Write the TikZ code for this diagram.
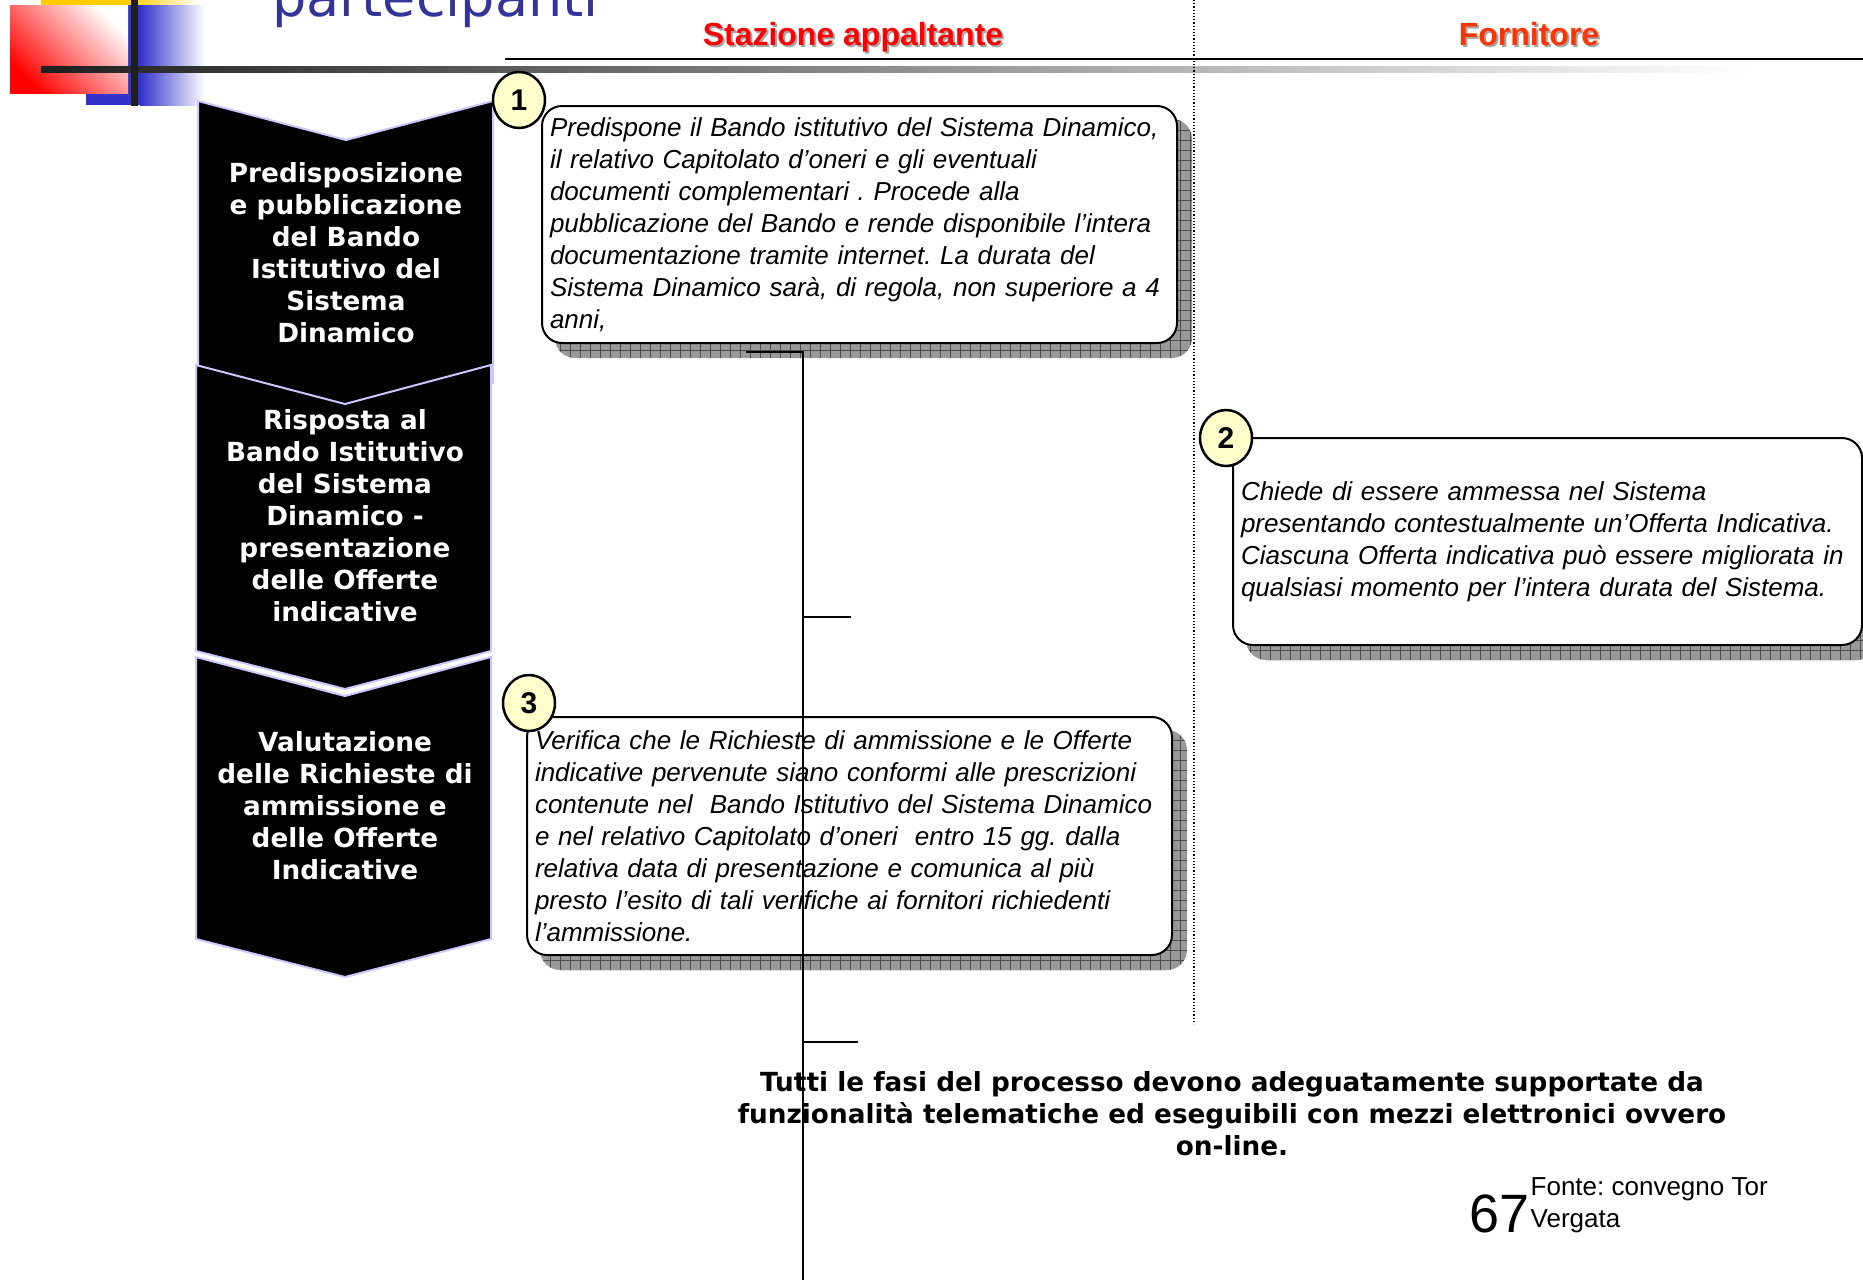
\documentclass[tikz,border=0pt]{standalone}
\usepackage{fontspec}
\setmainfont{Liberation Sans}
\newfontfamily\verdana{DejaVu Sans}
\usetikzlibrary{positioning, shapes.geometric, backgrounds}
\definecolor{lavender}{HTML}{C8C8FF}
\definecolor{titleblue}{HTML}{333399}
\definecolor{logoblue}{HTML}{3333CC}
\definecolor{logoyellow}{HTML}{FFCC00}
\definecolor{hdrred}{HTML}{FF0000}
\definecolor{hdrorange}{HTML}{FF3300}
\definecolor{stepyellow}{HTML}{FFFFCC}
\frenchspacing

\begin{document}
\begin{tikzpicture}[
    x=1pt, y=-1pt,
    phase/.style={
      fill = black,
      draw = lavender,
      line width = 2,
    },
    phasetxt/.style={
      text = white,
      align = center,
      inner sep = 0,
      font = \verdana\bfseries\fontsize{26.3}{32}\selectfont,
    },
    note/.style={
      draw,
      line width = 2,
      rounded corners = 20,
      fill = white,
      anchor = north west,
      inner sep = 8,
      align = left,
      font = \itshape\fontsize{26}{32}\selectfont,
    },
    noteshadow/.style={
      fill = black!40,
      rounded corners = 20,
      path picture={\draw[black!70, line width=0.9, step=10pt]
        (path picture bounding box.south west) grid
        (path picture bounding box.north east);},
    },
    num/.style={
      ellipse,
      draw,
      line width = 2.5,
      fill = stepyellow,
      minimum width = 52,
      minimum height = 56,
      inner sep = 0,
      font = \bfseries\fontsize{30}{30}\selectfont,
    },
    hdr/.style={font = \bfseries\fontsize{32}{32}\selectfont},
    link/.style={line width = 2.5},
  ]
  \useasboundingbox (0,0) rectangle (1863,1280);

  % logo
  \fill[logoyellow] (41,0) rectangle (130,5);
  \shade[left color=logoyellow, right color=white] (130,0) rectangle (200,5);
  \fill[logoblue] (86,5) rectangle (140,105);
  \shade[left color=logoblue, right color=white] (140,5) rectangle (205,105);
  \shade[bottom color=red, top color=white, shading angle=-45]
    (10,5) rectangle (128,93);
  \shade[left color=black!88, right color=white] (41,66) rectangle (1750,72);
  \fill[black!88] (131,0) rectangle (138,106);
  \node[anchor=base west, inner sep=0, text=titleblue,
    font=\verdana\fontsize{54}{54}\selectfont] (title) at (272,16) {partecipanti};

  % lanes
  \draw[line width=2] (505,59) -- (1863,59);
  \draw[dotted, line width=1.2] (1194,0) -- (1194,1024);
  \node[hdr, text=black!35] (hdrsash) at (855,39) {Stazione appaltante};
  \node[hdr, text=hdrred] (hdrsa) at (853,37) {Stazione appaltante};
  \node[hdr, text=black!35] (hdrfoSh) at (1531,36) {Fornitore};
  \node[hdr, text=hdrorange] (hdrfo) at (1529,34) {Fornitore};

  % phases
  \filldraw[phase] (198,101) -- (346,140) -- (493,101) -- (493,383)
    -- (346,421) -- (198,383) -- cycle;
  \filldraw[phase] (196,365) -- (345,404) -- (491,365) -- (491,651)
    -- (345,689) -- (196,651) -- cycle;
  \filldraw[phase] (196,657) -- (345,696) -- (491,657) -- (491,939)
    -- (345,977) -- (196,939) -- cycle;
  \node[phasetxt] (ph1) at (346,253)
    {Predisposizione\\e pubblicazione\\del Bando\\Istitutivo del\\Sistema\\Dinamico};
  \node[phasetxt] (ph2) at (345,516)
    {Risposta al\\Bando Istitutivo\\del Sistema\\Dinamico -\\presentazione\\delle Offerte\\indicative};
  \node[phasetxt] (ph3) at (345,806)
    {Valutazione\\delle Richieste di\\ammissione e\\delle Offerte\\Indicative};

  % activities
  \node[note, minimum width=635, minimum height=237, text width=619] (b1) at (541,105)
    {Predispone il Bando istitutivo del Sistema Dinamico,\\il relativo Capitolato d’oneri e gli eventuali\\documenti complementari . Procede alla\\pubblicazione del Bando e rende disponibile l’intera\\documentazione tramite internet. La durata del\\Sistema Dinamico sarà, di regola, non superiore a 4\\anni,};
  \node[note, minimum width=629, minimum height=207, text width=613] (b2) at (1232,437)
    {Chiede di essere ammessa nel Sistema\\presentando contestualmente un’Offerta Indicativa.\\Ciascuna Offerta indicativa può essere migliorata in\\qualsiasi momento per l’intera durata del Sistema.};
  \node[note, minimum width=645, minimum height=238, text width=629] (b3) at (526,716)
    {Verifica che le Richieste di ammissione e le Offerte\\indicative pervenute siano conformi alle prescrizioni\\contenute nel \ Bando Istitutivo del Sistema Dinamico\\e nel relativo Capitolato d’oneri \ entro 15 gg. dalla\\relativa data di presentazione e comunica al più\\presto l’esito di tali verifiche ai fornitori richiedenti\\l’ammissione.};
  \begin{scope}[on background layer]
    \foreach \b in {b1, b2, b3}
      \path[noteshadow] ([shift={(14,14)}]\b.north west)
        rectangle ([shift={(14,14)}]\b.south east);
  \end{scope}
  \node[num] (n1) at (519,100) {1};
  \node[num] (n2) at (1226,438) {2};
  \node[num] (n3) at (529,703) {3};

  \coordinate (lk0) at (746,352);
  \coordinate (lk1) at (803,1280);
  \coordinate (lk2) at (851,617);
  \coordinate (lk3) at (858,1042);
  \draw[link] (lk0) -| (lk1);
  \draw[link] (lk2) -- (lk2 -| lk1);
  \draw[link] (lk3) -- (lk3 -| lk1);

  % footer
  \node[align=center, inner sep=0, font=\verdana\bfseries\fontsize{26.3}{32}\selectfont]
    (note) at (1232,1114)
    {Tutti le fasi del processo devono adeguatamente supportate da\\funzionalità telematiche ed eseguibili con mezzi elettronici ovvero\\on-line.};
  \node[anchor=base west, inner sep=0, font=\fontsize{54}{54}\selectfont]
    (pgnum) at (1469,1232) {67};
  \node[right=1pt of pgnum, yshift=8pt, align=left, inner sep=0,
    font=\fontsize{26}{32}\selectfont] (src) {Fonte: convegno Tor\\Vergata};
\end{tikzpicture}
\end{document}
